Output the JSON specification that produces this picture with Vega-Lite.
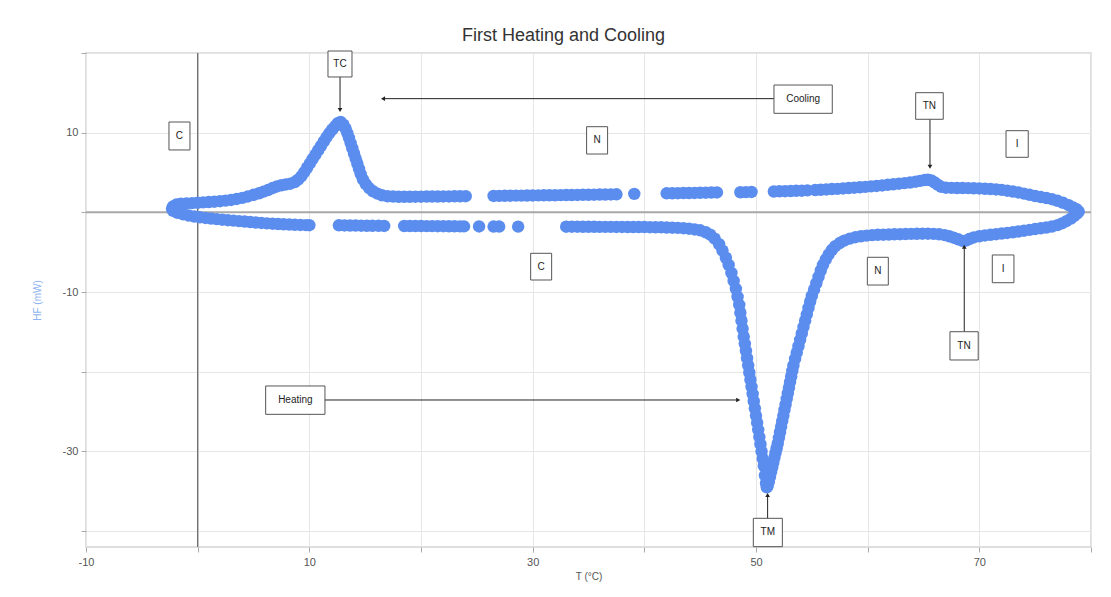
{
  "$schema": "https://vega.github.io/schema/vega-lite/v6.json",
  "width": 1005,
  "height": 494,
  "autosize": {"type": "none"},
  "padding": {"left": 86, "top": 53, "right": 20, "bottom": 50},
  "background": "white",
  "title": {"text": "First Heating and Cooling", "fontSize": 18, "font": "Liberation Sans", "fontWeight": "normal", "color": "#333333", "anchor": "middle", "offset": 6, "dx": -25},
  "config": {
    "view": {"stroke": "#d4d4d4", "strokeWidth": 1.5},
    "axis": {"labelFont": "Liberation Sans", "titleFont": "Liberation Sans", "labelFontSize": 11, "labelColor": "#555555", "titleFontWeight": "normal", "titleFontSize": 10, "gridColor": "#e6e6e6", "gridWidth": 1, "tickColor": "#aaaaaa", "tickSize": 5, "domain": false}
  },
  "datasets": {
    "curve": [
      {"T":78.9,"HF":0.1},{"T":78.7,"HF":0.4},{"T":78.4,"HF":0.6},{"T":78.0,"HF":0.9},{"T":77.5,"HF":1.2},{"T":77.0,"HF":1.45},{"T":76.5,"HF":1.65},{"T":76.0,"HF":1.8},{"T":75.5,"HF":1.92},{"T":75.0,"HF":2.05},{"T":74.5,"HF":2.2},{"T":74.0,"HF":2.35},{"T":73.5,"HF":2.5},{"T":73.0,"HF":2.62},{"T":72.5,"HF":2.72},{"T":72.0,"HF":2.82},{"T":71.5,"HF":2.88},{"T":71.0,"HF":2.93},{"T":70.5,"HF":2.96},{"T":70.0,"HF":3.0},{"T":69.5,"HF":3.02},{"T":69.0,"HF":3.04},{"T":68.5,"HF":3.05},{"T":68.0,"HF":3.05},{"T":67.5,"HF":3.07},{"T":67.0,"HF":3.1},{"T":66.6,"HF":3.2},{"T":66.3,"HF":3.45},{"T":66.0,"HF":3.75},{"T":65.7,"HF":4.0},{"T":65.4,"HF":4.1},{"T":65.1,"HF":4.05},{"T":64.7,"HF":3.95},{"T":64.3,"HF":3.85},{"T":63.8,"HF":3.75},{"T":63.3,"HF":3.67},{"T":62.8,"HF":3.6},{"T":62.3,"HF":3.53},{"T":61.8,"HF":3.46},{"T":61.3,"HF":3.38},{"T":60.8,"HF":3.32},{"T":60.3,"HF":3.26},{"T":59.8,"HF":3.2},{"T":59.3,"HF":3.15},{"T":58.8,"HF":3.1},{"T":58.3,"HF":3.05},{"T":57.8,"HF":3.0},{"T":57.3,"HF":2.95},{"T":56.8,"HF":2.92},{"T":56.3,"HF":2.88},{"T":55.8,"HF":2.84},{"T":55.3,"HF":2.8},{"T":54.6,"HF":2.76},{"T":54.1,"HF":2.72},{"T":53.6,"HF":2.7},{"T":53.1,"HF":2.68},{"T":52.6,"HF":2.66},{"T":52.1,"HF":2.64},{"T":51.6,"HF":2.62},
      {"T":49.6,"HF":2.56},{"T":49.1,"HF":2.54},{"T":48.6,"HF":2.52},
      {"T":46.5,"HF":2.5},{"T":46.0,"HF":2.48},{"T":45.5,"HF":2.47},{"T":45.0,"HF":2.46},{"T":44.5,"HF":2.44},{"T":44.0,"HF":2.43},{"T":43.5,"HF":2.42},{"T":43.0,"HF":2.41},{"T":42.5,"HF":2.4},{"T":42.0,"HF":2.39},
      {"T":39.1,"HF":2.32},
      {"T":37.5,"HF":2.26},{"T":37.0,"HF":2.25},{"T":36.5,"HF":2.24},{"T":36.0,"HF":2.23},{"T":35.5,"HF":2.22},{"T":35.0,"HF":2.21},{"T":34.5,"HF":2.2},{"T":34.0,"HF":2.19},{"T":33.5,"HF":2.18},{"T":33.0,"HF":2.17},{"T":32.5,"HF":2.16},{"T":32.0,"HF":2.15},{"T":31.5,"HF":2.15},{"T":31.0,"HF":2.14},{"T":30.5,"HF":2.13},{"T":30.0,"HF":2.12},{"T":29.5,"HF":2.11},{"T":29.0,"HF":2.1},{"T":28.5,"HF":2.1},{"T":28.0,"HF":2.09},{"T":27.5,"HF":2.08},{"T":27.0,"HF":2.07},{"T":26.5,"HF":2.06},
      {"T":24.0,"HF":2.03},{"T":23.5,"HF":2.02},{"T":23.0,"HF":2.01},{"T":22.5,"HF":2.0},{"T":22.0,"HF":2.0},{"T":21.5,"HF":1.99},{"T":21.0,"HF":1.98},{"T":20.5,"HF":1.98},{"T":20.0,"HF":1.97},{"T":19.5,"HF":1.97},{"T":19.0,"HF":1.96},{"T":18.5,"HF":1.96},{"T":18.0,"HF":1.96},{"T":17.5,"HF":1.98},{"T":17.0,"HF":2.02},{"T":16.5,"HF":2.15},{"T":16.1,"HF":2.35},{"T":15.7,"HF":2.65},{"T":15.35,"HF":3.05},{"T":15.05,"HF":3.55},{"T":14.8,"HF":4.15},{"T":14.6,"HF":4.8},{"T":14.45,"HF":5.45},{"T":14.3,"HF":6.1},{"T":14.15,"HF":6.75},{"T":14.0,"HF":7.4},{"T":13.85,"HF":8.05},{"T":13.7,"HF":8.7},{"T":13.55,"HF":9.35},{"T":13.4,"HF":9.95},{"T":13.25,"HF":10.5},{"T":13.05,"HF":11.0},{"T":12.8,"HF":11.35},{"T":12.55,"HF":11.2},{"T":12.3,"HF":10.8},{"T":12.05,"HF":10.4},{"T":11.8,"HF":9.95},{"T":11.55,"HF":9.45},{"T":11.3,"HF":8.9},{"T":11.05,"HF":8.35},{"T":10.8,"HF":7.8},{"T":10.55,"HF":7.25},{"T":10.3,"HF":6.7},{"T":10.05,"HF":6.15},{"T":9.8,"HF":5.6},{"T":9.55,"HF":5.05},{"T":9.3,"HF":4.55},{"T":9.0,"HF":4.1},{"T":8.7,"HF":3.8},{"T":8.3,"HF":3.6},{"T":7.9,"HF":3.5},{"T":7.5,"HF":3.4},{"T":7.1,"HF":3.25},{"T":6.7,"HF":3.05},{"T":6.3,"HF":2.8},{"T":5.9,"HF":2.6},{"T":5.5,"HF":2.4},{"T":5.0,"HF":2.2},{"T":4.5,"HF":2.0},{"T":4.0,"HF":1.82},{"T":3.5,"HF":1.68},{"T":3.0,"HF":1.56},{"T":2.5,"HF":1.47},{"T":2.0,"HF":1.4},{"T":1.5,"HF":1.34},{"T":1.0,"HF":1.29},{"T":0.5,"HF":1.25},{"T":0.0,"HF":1.2},{"T":-0.5,"HF":1.16},{"T":-1.0,"HF":1.12},{"T":-1.5,"HF":1.08},{"T":-1.9,"HF":0.98},{"T":-2.2,"HF":0.75},{"T":-2.3,"HF":0.45},
      {"T":-2.2,"HF":0.2},{"T":-1.8,"HF":-0.05},{"T":-1.3,"HF":-0.25},{"T":-0.8,"HF":-0.4},{"T":-0.3,"HF":-0.52},{"T":0.2,"HF":-0.62},{"T":0.7,"HF":-0.7},{"T":1.2,"HF":-0.78},{"T":1.7,"HF":-0.85},{"T":2.2,"HF":-0.92},{"T":2.7,"HF":-0.98},{"T":3.2,"HF":-1.04},{"T":3.7,"HF":-1.1},{"T":4.2,"HF":-1.16},{"T":4.7,"HF":-1.22},{"T":5.2,"HF":-1.28},{"T":5.7,"HF":-1.33},{"T":6.2,"HF":-1.38},{"T":6.7,"HF":-1.42},{"T":7.2,"HF":-1.46},{"T":7.7,"HF":-1.5},{"T":8.2,"HF":-1.53},{"T":8.7,"HF":-1.56},{"T":9.2,"HF":-1.58},{"T":9.7,"HF":-1.6},{"T":10.0,"HF":-1.61},
      {"T":12.65,"HF":-1.63},{"T":13.15,"HF":-1.64},{"T":13.65,"HF":-1.65},{"T":14.15,"HF":-1.66},{"T":14.65,"HF":-1.67},{"T":15.15,"HF":-1.68},{"T":15.65,"HF":-1.68},{"T":16.2,"HF":-1.69},{"T":16.7,"HF":-1.7},
      {"T":18.5,"HF":-1.71},{"T":19.0,"HF":-1.71},{"T":19.5,"HF":-1.72},{"T":20.0,"HF":-1.72},{"T":20.5,"HF":-1.73},{"T":21.0,"HF":-1.73},{"T":21.5,"HF":-1.74},{"T":22.0,"HF":-1.74},{"T":22.5,"HF":-1.75},{"T":23.0,"HF":-1.75},{"T":23.5,"HF":-1.76},{"T":23.85,"HF":-1.76},
      {"T":25.2,"HF":-1.77},{"T":26.5,"HF":-1.78},{"T":27.0,"HF":-1.78},{"T":28.7,"HF":-1.79},
      {"T":33.0,"HF":-1.8},{"T":33.5,"HF":-1.8},{"T":34.0,"HF":-1.8},{"T":34.5,"HF":-1.81},{"T":35.0,"HF":-1.81},{"T":35.5,"HF":-1.81},{"T":36.0,"HF":-1.82},{"T":36.5,"HF":-1.82},{"T":37.0,"HF":-1.82},{"T":37.5,"HF":-1.83},{"T":38.0,"HF":-1.83},{"T":38.5,"HF":-1.84},{"T":39.0,"HF":-1.84},{"T":39.5,"HF":-1.85},{"T":40.0,"HF":-1.85},{"T":40.5,"HF":-1.86},{"T":41.0,"HF":-1.87},{"T":41.5,"HF":-1.88},{"T":42.0,"HF":-1.9},{"T":42.5,"HF":-1.92},{"T":43.0,"HF":-1.95},{"T":43.5,"HF":-1.99},{"T":44.0,"HF":-2.05},{"T":44.5,"HF":-2.14},{"T":45.0,"HF":-2.25},{"T":45.5,"HF":-2.5},{"T":45.9,"HF":-2.8},{"T":46.3,"HF":-3.3},{"T":46.7,"HF":-4.0},{"T":47.0,"HF":-4.8},{"T":47.3,"HF":-5.7},{"T":47.55,"HF":-6.6},{"T":47.8,"HF":-7.6},{"T":48.0,"HF":-8.6},{"T":48.2,"HF":-9.6},{"T":48.35,"HF":-10.6},{"T":48.5,"HF":-11.6},{"T":48.6,"HF":-12.6},{"T":48.7,"HF":-13.6},{"T":48.8,"HF":-14.6},{"T":48.9,"HF":-15.6},{"T":49.0,"HF":-16.5},{"T":49.1,"HF":-17.4},{"T":49.2,"HF":-18.3},{"T":49.3,"HF":-19.2},{"T":49.4,"HF":-20.1},{"T":49.5,"HF":-21.0},{"T":49.6,"HF":-21.9},{"T":49.7,"HF":-22.8},{"T":49.8,"HF":-23.7},{"T":49.9,"HF":-24.6},{"T":50.0,"HF":-25.5},{"T":50.1,"HF":-26.4},{"T":50.2,"HF":-27.3},{"T":50.3,"HF":-28.2},{"T":50.4,"HF":-29.1},{"T":50.5,"HF":-30.0},{"T":50.6,"HF":-30.9},{"T":50.7,"HF":-31.8},{"T":50.8,"HF":-33.0},{"T":50.9,"HF":-34.0},{"T":50.97,"HF":-34.5},
      {"T":51.05,"HF":-34.3},{"T":51.15,"HF":-33.8},{"T":51.25,"HF":-33.2},{"T":51.35,"HF":-32.6},{"T":51.45,"HF":-32.0},{"T":51.55,"HF":-31.4},{"T":51.65,"HF":-30.8},{"T":51.75,"HF":-30.2},{"T":51.85,"HF":-29.6},{"T":51.95,"HF":-29.0},{"T":52.05,"HF":-28.3},{"T":52.15,"HF":-27.6},{"T":52.25,"HF":-26.9},{"T":52.35,"HF":-26.2},{"T":52.45,"HF":-25.5},{"T":52.55,"HF":-24.8},{"T":52.65,"HF":-24.1},{"T":52.75,"HF":-23.4},{"T":52.85,"HF":-22.7},{"T":52.95,"HF":-22.0},{"T":53.05,"HF":-21.3},{"T":53.15,"HF":-20.6},{"T":53.25,"HF":-19.9},{"T":53.35,"HF":-19.2},{"T":53.5,"HF":-18.4},{"T":53.65,"HF":-17.6},{"T":53.8,"HF":-16.8},{"T":53.95,"HF":-16.0},{"T":54.1,"HF":-15.2},{"T":54.25,"HF":-14.4},{"T":54.4,"HF":-13.6},{"T":54.55,"HF":-12.8},{"T":54.7,"HF":-12.0},{"T":54.85,"HF":-11.2},{"T":55.0,"HF":-10.5},{"T":55.2,"HF":-9.7},{"T":55.4,"HF":-8.9},{"T":55.6,"HF":-8.1},{"T":55.8,"HF":-7.3},{"T":56.0,"HF":-6.6},{"T":56.25,"HF":-5.9},{"T":56.5,"HF":-5.3},{"T":56.8,"HF":-4.7},{"T":57.1,"HF":-4.25},{"T":57.5,"HF":-3.85},{"T":57.9,"HF":-3.55},{"T":58.4,"HF":-3.3},{"T":58.9,"HF":-3.12},{"T":59.4,"HF":-3.0},{"T":59.9,"HF":-2.92},{"T":60.4,"HF":-2.86},{"T":60.9,"HF":-2.82},{"T":61.4,"HF":-2.8},{"T":61.9,"HF":-2.78},{"T":62.4,"HF":-2.76},{"T":62.9,"HF":-2.74},{"T":63.4,"HF":-2.72},{"T":63.9,"HF":-2.7},{"T":64.4,"HF":-2.69},{"T":64.9,"HF":-2.68},{"T":65.4,"HF":-2.68},{"T":65.9,"HF":-2.7},{"T":66.4,"HF":-2.76},{"T":66.9,"HF":-2.86},{"T":67.3,"HF":-3.0},{"T":67.7,"HF":-3.18},{"T":68.1,"HF":-3.38},{"T":68.5,"HF":-3.58},{"T":68.8,"HF":-3.55},{"T":69.1,"HF":-3.35},{"T":69.5,"HF":-3.15},{"T":70.0,"HF":-3.0},{"T":70.5,"HF":-2.9},{"T":71.0,"HF":-2.82},{"T":71.5,"HF":-2.74},{"T":72.0,"HF":-2.66},{"T":72.5,"HF":-2.58},{"T":73.0,"HF":-2.5},{"T":73.5,"HF":-2.4},{"T":74.0,"HF":-2.3},{"T":74.5,"HF":-2.2},{"T":75.0,"HF":-2.1},{"T":75.5,"HF":-2.0},{"T":76.0,"HF":-1.9},{"T":76.5,"HF":-1.78},{"T":77.0,"HF":-1.6},{"T":77.4,"HF":-1.38},{"T":77.8,"HF":-1.1},{"T":78.2,"HF":-0.78},{"T":78.5,"HF":-0.45},{"T":78.75,"HF":-0.15}
    ],
    "boxes": [
      {"label":"C","x1":-2.57,"x2":-0.69,"y1":7.83,"y2":11.34,"cx":-1.63,"cy":9.6},
      {"label":"TC","x1":11.67,"x2":13.82,"y1":16.99,"y2":20.25,"cx":12.75,"cy":18.6},
      {"label":"N","x1":34.83,"x2":36.71,"y1":7.32,"y2":10.75,"cx":35.77,"cy":9.03},
      {"label":"Cooling","x1":51.61,"x2":56.83,"y1":12.43,"y2":15.98,"cx":54.22,"cy":14.2},
      {"label":"TN","x1":64.3,"x2":66.77,"y1":11.68,"y2":15.02,"cx":65.53,"cy":13.35},
      {"label":"I","x1":72.39,"x2":74.38,"y1":6.91,"y2":10.25,"cx":73.38,"cy":8.58},
      {"label":"C","x1":29.82,"x2":31.7,"y1":-8.49,"y2":-5.14,"cx":30.76,"cy":-6.8},
      {"label":"N","x1":59.97,"x2":61.85,"y1":-9.12,"y2":-5.64,"cx":60.91,"cy":-7.38},
      {"label":"I","x1":71.16,"x2":73.1,"y1":-8.83,"y2":-5.35,"cx":72.13,"cy":-7.09},
      {"label":"TN","x1":67.37,"x2":69.9,"y1":-18.53,"y2":-14.98,"cx":68.63,"cy":-16.75},
      {"label":"Heating","x1":6.09,"x2":11.4,"y1":-25.35,"y2":-21.79,"cx":8.75,"cy":-23.57},
      {"label":"TM","x1":49.76,"x2":52.36,"y1":-41.96,"y2":-38.4,"cx":51.06,"cy":-40.18}
    ],
    "arrows": [
      {"x1":12.75,"y1":16.99,"x2":12.75,"y2":12.85,"dir":"triangle-down"},
      {"x1":51.61,"y1":14.27,"x2":16.6,"y2":14.27,"dir":"triangle-left"},
      {"x1":65.58,"y1":11.68,"x2":65.58,"y2":5.73,"dir":"triangle-down"},
      {"x1":68.65,"y1":-14.98,"x2":68.65,"y2":-4.31,"dir":"triangle-up"},
      {"x1":11.4,"y1":-23.55,"x2":48.41,"y2":-23.55,"dir":"triangle-right"},
      {"x1":51.04,"y1":-38.4,"x2":51.04,"y2":-35.47,"dir":"triangle-up"}
    ]
  },
  "layer": [
    {
      "data": {"values": [{"v": 0}]},
      "mark": {"type": "rule", "color": "#6f6f6f", "strokeWidth": 1.3},
      "encoding": {"x": {"field": "v", "type": "quantitative", "scale": {"domain": [-10, 80], "nice": false, "zero": false}}}
    },
    {
      "data": {"values": [{"v": 0}]},
      "mark": {"type": "rule", "color": "#a8a8a8", "strokeWidth": 2},
      "encoding": {"y": {"field": "v", "type": "quantitative", "scale": {"domain": [-42, 20], "nice": false, "zero": false}}}
    },
    {
      "data": {"name": "curve"},
      "mark": {"type": "point", "filled": true, "opacity": 1, "size": 155, "color": "#5b8def", "shape": "circle"},
      "encoding": {
        "x": {"field": "T", "type": "quantitative", "scale": {"domain": [-10, 80], "nice": false, "zero": false},
              "axis": {"values": [-10, 0, 10, 20, 30, 40, 50, 60, 70, 80], "labelExpr": "abs(datum.value) % 20 == 10 ? '' + datum.value : ''", "title": "T (°C)", "titleColor": "#555555", "labelPadding": 4, "titlePadding": 4, "labelFlush": false}},
        "y": {"field": "HF", "type": "quantitative", "scale": {"domain": [-42, 20], "nice": false, "zero": false},
              "axis": {"values": [-40, -30, -20, -10, 0, 10, 20], "labelExpr": "abs(datum.value) % 20 == 10 ? '' + datum.value : ''", "title": "HF (mW)", "titleColor": "#8fb4f2", "labelPadding": 3, "titlePadding": 20, "labelFlush": false}}
      }
    },
    {
      "data": {"name": "arrows"},
      "mark": {"type": "rule", "color": "#222222", "strokeWidth": 1},
      "encoding": {
        "x": {"field": "x1", "type": "quantitative"},
        "x2": {"field": "x2"},
        "y": {"field": "y1", "type": "quantitative"},
        "y2": {"field": "y2"}
      }
    },
    {
      "data": {"name": "arrows"},
      "mark": {"type": "point", "filled": true, "opacity": 1, "size": 22, "color": "#222222"},
      "encoding": {
        "x": {"field": "x2", "type": "quantitative"},
        "y": {"field": "y2", "type": "quantitative"},
        "shape": {"field": "dir", "type": "nominal", "scale": null, "legend": null}
      }
    },
    {
      "data": {"name": "boxes"},
      "mark": {"type": "rect", "fill": "white", "stroke": "#555555", "strokeWidth": 1},
      "encoding": {
        "x": {"field": "x1", "type": "quantitative"},
        "x2": {"field": "x2"},
        "y": {"field": "y1", "type": "quantitative"},
        "y2": {"field": "y2"}
      }
    },
    {
      "data": {"name": "boxes"},
      "mark": {"type": "text", "font": "Liberation Sans", "fontSize": 10, "color": "#222222", "align": "center", "baseline": "middle"},
      "encoding": {
        "x": {"field": "cx", "type": "quantitative"},
        "y": {"field": "cy", "type": "quantitative"},
        "text": {"field": "label", "type": "nominal"}
      }
    }
  ]
}
